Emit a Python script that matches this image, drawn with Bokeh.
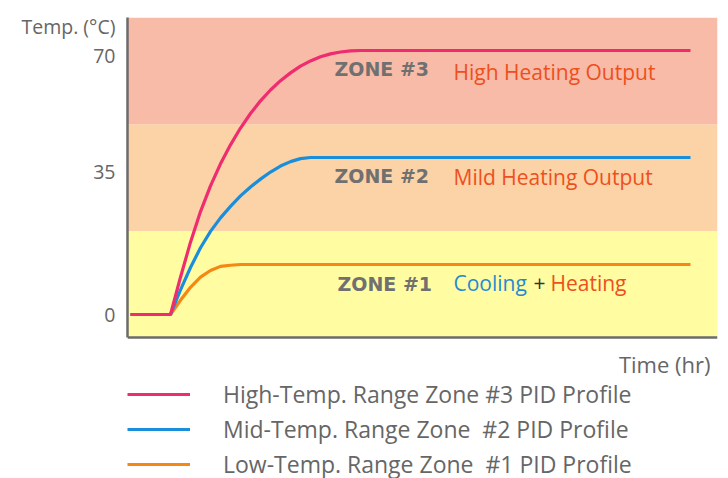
from bokeh.plotting import figure
from bokeh.models import Range1d, FixedTicker, BoxAnnotation, Label, Legend, LegendItem, Span
from bokeh.embed import file_html
from bokeh.resources import INLINE

# ---- data (schematic units) ----
zone_names = ["ZONE #1", "ZONE #2", "ZONE #3"]
zone_edges = [-6.17, 22.4, 51.0, 79.65]
zone_colors = ["#FFFCA2", "#FBD3A6", "#F7BBA7"]

time_high = [0.3, 4.3, 5.3, 6.3, 7.3, 8.3, 9.3, 10.3, 11.3, 12.3, 13.3, 14.3,
             15.3, 16.3, 17.3, 18.3, 19.3, 20.3, 21.3, 22.3, 23.3, 56.3]
temp_high = [0, 0, 10.0, 19.4, 27.6, 34.5, 40.4, 45.5, 50.0, 53.9, 57.3, 60.2,
             62.7, 64.8, 66.6, 68.0, 69.1, 69.9, 70.4, 70.7, 70.8, 70.8]

time_mid = [0.3, 4.3, 5.3, 6.3, 7.3, 8.3, 9.3, 10.3, 11.3, 12.3, 13.3, 14.3,
            15.3, 16.3, 17.3, 18.3, 56.3]
temp_mid = [0, 0, 6.6, 12.6, 17.9, 22.3, 25.9, 29.0, 31.8, 34.2, 36.3, 38.2,
            39.8, 41.0, 41.8, 42.1, 42.1]

time_low = [0.3, 4.3, 5.3, 6.3, 7.3, 8.3, 9.3, 10.3, 11.3, 56.3]
temp_low = [0, 0, 3.8, 7.3, 10.0, 11.8, 12.9, 13.2, 13.4, 13.4]

tick_pos = [0, 38.4, 69.5, 77.2]
tick_labels = ["0", "35", "70", "Temp. (°C)"]

series_labels = ["High-Temp. Range Zone #3 PID Profile",
                 "Mid-Temp. Range Zone  #2 PID Profile",
                 "Low-Temp. Range Zone  #1 PID Profile"]
series_colors = ["#EE2C6F", "#1B8EDB", "#F68712"]

GRAY = "#666666"
AXIS = "#6B6B6B"
RED = "#EE4F1E"
FONT = "Open Sans"

p = figure(width=728, height=478, output_backend="svg", toolbar_location=None,
           x_range=Range1d(0, 59), y_range=Range1d(-43.99, zone_edges[-1]),
           x_axis_location=None,
           min_border_left=127, min_border_right=11, min_border_top=17,
           min_border_bottom=0)
p.outline_line_color = None
p.grid.visible = False
p.background_fill_color = "white"
p.border_fill_color = "white"

# zones
for i in range(3):
    p.add_layout(BoxAnnotation(bottom=zone_edges[i], top=zone_edges[i + 1],
                               fill_color=zone_colors[i], fill_alpha=1,
                               line_color=None, level="underlay"))

r_low = p.line(time_low, temp_low, line_color=series_colors[2], line_width=3.2)
r_mid = p.line(time_mid, temp_mid, line_color=series_colors[1], line_width=3.2)
r_high = p.line(time_high, temp_high, line_color=series_colors[0], line_width=3.2)

# y axis (the axis title is drawn as the top tick label)
ya = p.yaxis[0]
ya.bounds = (zone_edges[0], zone_edges[-1])
ya.ticker = FixedTicker(ticks=tick_pos)
ya.major_label_overrides = {t: l for t, l in zip(tick_pos, tick_labels)}
ya.major_tick_line_color = None
ya.minor_tick_line_color = None
ya.major_tick_out = 0
ya.major_tick_in = 0
ya.major_label_standoff = 12
ya.major_label_text_font = FONT
ya.major_label_text_font_size = "19.5px"
ya.major_label_text_color = GRAY
ya.axis_line_color = AXIS
ya.axis_line_width = 2.5

# time axis line
p.add_layout(Span(location=zone_edges[0], dimension="width",
                  line_color=AXIS, line_width=2.5))

p.add_layout(Label(x=58.3, y=-13.41, text="Time (hr)", text_align="right",
                   text_baseline="alphabetic", text_font=FONT,
                   text_font_size="22px", text_color=GRAY))

# zone labels
zone_y = [8.05, 37.05, 65.75]
zone_x = [21.0, 20.7, 20.7]
for name, zx, zy in zip(zone_names, zone_x, zone_y):
    p.add_layout(Label(x=zx, y=zy, text=name, text_baseline="alphabetic",
                       text_font="DejaVu Sans", text_font_style="bold",
                       text_font_size="19px", text_color="#707070"))

p.add_layout(Label(x=32.6, y=64.95, text="High Heating Output", text_baseline="alphabetic",
                   text_font=FONT, text_font_size="21px", text_color=RED))
p.add_layout(Label(x=32.6, y=36.75, text="Mild Heating Output", text_baseline="alphabetic",
                   text_font=FONT, text_font_size="21px", text_color=RED))
p.add_layout(Label(x=32.6, y=8.35, text="Cooling", text_baseline="alphabetic",
                   text_font=FONT, text_font_size="21px", text_color="#1F8BD3"))
p.add_layout(Label(x=40.6, y=8.35, text="+", text_baseline="alphabetic",
                   text_font=FONT, text_font_size="21px", text_color="#333333"))
p.add_layout(Label(x=42.3, y=8.35, text="Heating", text_baseline="alphabetic",
                   text_font=FONT, text_font_size="21px", text_color=RED))

legend = Legend(items=[LegendItem(label=series_labels[0], renderers=[r_high]),
                       LegendItem(label=series_labels[1], renderers=[r_mid]),
                       LegendItem(label=series_labels[2], renderers=[r_low])],
                location=(0, -2), padding=0, margin=0, spacing=3,
                glyph_width=63, glyph_height=20, label_height=20,
                label_standoff=33, label_text_font=FONT,
                label_text_font_size="23px", label_text_color=GRAY,
                border_line_color=None, background_fill_alpha=0)
p.add_layout(legend, "center")

open("out.html", "w").write(file_html(p, INLINE))
